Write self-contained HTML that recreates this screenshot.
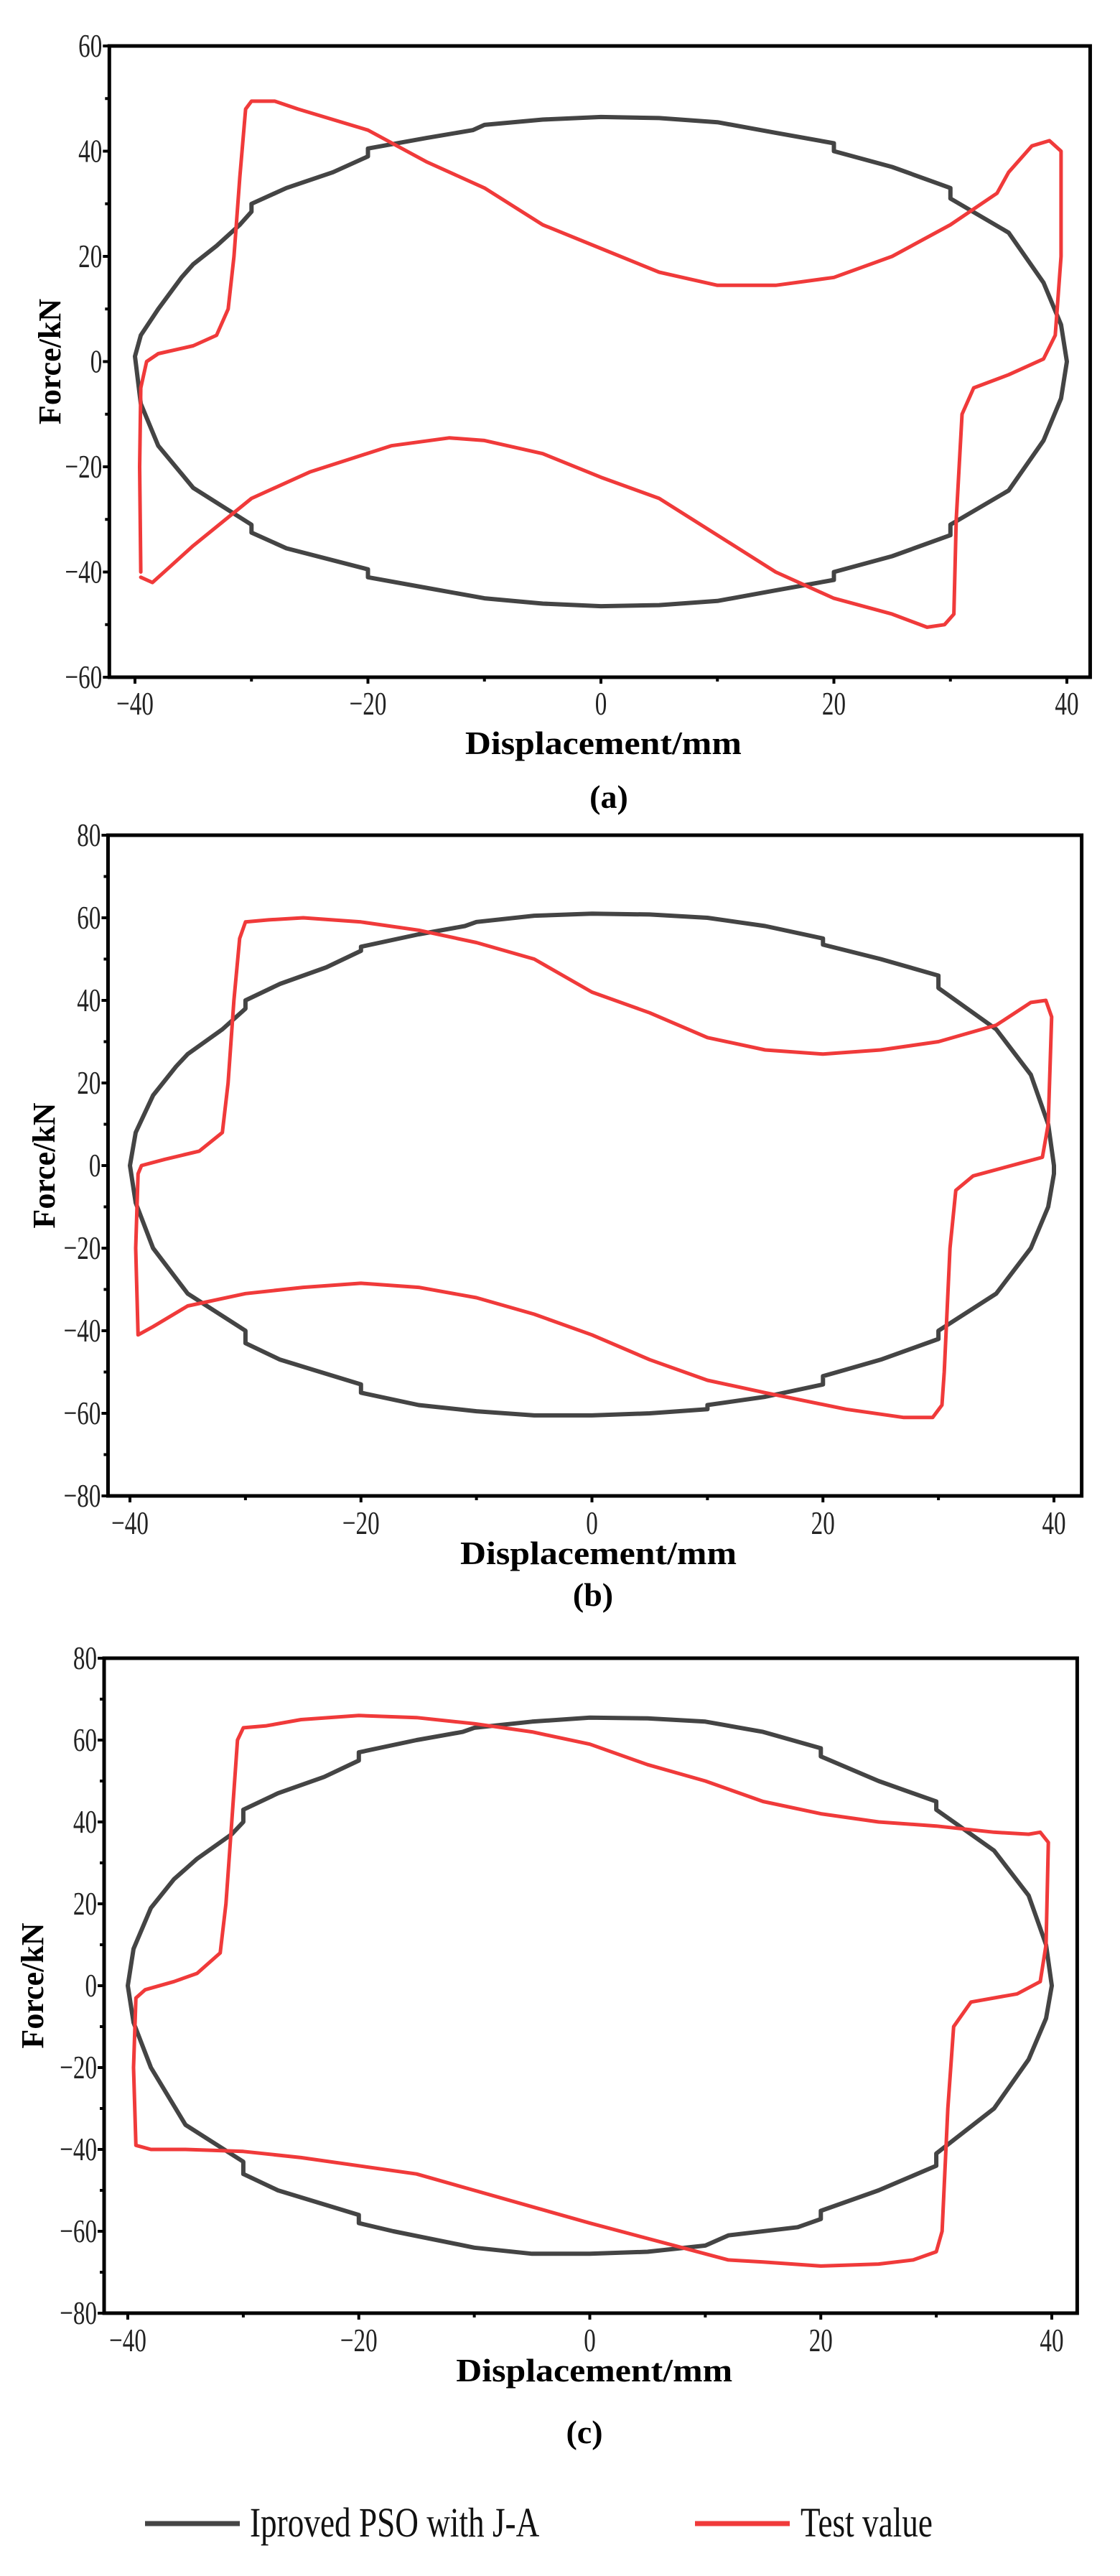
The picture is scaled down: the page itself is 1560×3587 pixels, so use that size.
<!DOCTYPE html>
<html><head><meta charset="utf-8"><style>
html,body{margin:0;padding:0;background:#fff;}
svg{display:block;}
</style></head><body>
<svg id="fig" width="1560" height="3587" viewBox="0 0 1560 3587" xmlns="http://www.w3.org/2000/svg"></svg>
<script>
// ---- Panel (a) data ----
const aModelX=[-40,-39.5,-38,-36,-35,-33,-31,-30,-30,-27,-23,-20,-20,-15,-11,-10,-5,0,5,10,15,20,20,25,30,30,35,38,39.5,40,39.5,38,35,30,30,25,20,20,15,10,5,0,-5,-10,-15,-20,-20,-27,-30,-30,-35,-38,-39.5,-40];
const aModelF=[1,5,10,16,18.5,22,26,28.5,30,33,36,39,40.5,42.5,44,45,46,46.5,46.3,45.5,43.5,41.5,40,37,33,31,24.5,15,7,0,-7,-15,-24.5,-31,-33,-37,-40,-41.5,-43.5,-45.5,-46.3,-46.5,-46,-45,-43,-41,-39.5,-35.5,-32.5,-31,-24,-16,-8,1];
const aTestX=[-39.5,-39.6,-39.5,-39,-38,-35,-33,-32,-31.5,-31,-30.5,-30,-28,-26,-20,-15,-10,-5,0,5,10,15,20,25,30,34,35,37,38.5,39.5,39.5,39,38,35,32,31,30.5,30.3,29.5,28,25,20,15,10,5,0,-5,-10,-13,-18,-25,-30,-35,-37,-38.5,-39.5];
const aTestF=[-40,-20,-5,0,1.5,3,5,10,20,35,48,49.5,49.5,48,44,38,33,26,21.5,17,14.5,14.5,16,20,26,32,36,41,42,40,20,5,0.5,-2.5,-5,-10,-30,-48,-50,-50.5,-48,-45,-40,-33,-26,-22,-17.5,-15,-14.5,-16,-21,-26,-35,-39,-42,-41];
// ---- Panel (b) data ----
const bModelX=[-40,-39.5,-38,-36,-35,-32,-30,-30,-27,-23,-20,-20,-15,-11,-10,-5,0,5,10,15,20,20,25,30,30,35,38,39.5,40,40,39.5,38,35,30,30,25,20,20,15,10,10,5,0,-5,-10,-15,-20,-20,-27,-30,-30,-35,-38,-39.5,-40];
const bModelF=[0,8,17,24,27,33,38,40,44,48,52,53,56,58,59,60.5,61,60.8,60,58,55,53.5,50,46,43,33,22,10,0,-2,-10,-20,-31,-40,-42,-47,-51,-53,-56,-58,-59,-60,-60.5,-60.5,-59.5,-58,-55,-53,-47,-43,-40,-31,-20,-9,0];
const bTestX=[-39.3,-39.5,-39.3,-39,-37,-34,-32,-31.5,-31,-30.5,-30,-28,-25,-20,-15,-10,-5,0,5,10,15,20,25,30,35,38,39.3,39.8,39.5,39,37,33,31.5,31,30.5,30.3,29.5,27,22,15,10,5,0,-5,-10,-15,-20,-25,-30,-35,-38,-39.3];
const bTestF=[-41,-20,-2,0,1.5,3.5,8,20,40,55,59,59.5,60,59,57,54,50,42,37,31,28,27,28,30,34,39.5,40,36,10,2,0.5,-2.5,-6,-20,-50,-58,-61,-61,-59,-55,-52,-47,-41,-36,-32,-29.5,-28.5,-29.5,-31,-34,-39,-41];
// ---- Panel (c) data ----
const cModelX=[-40,-39.5,-38,-36,-34,-31,-30,-30,-27,-23,-20,-20,-15,-11,-10,-5,0,5,10,15,20,20,25,30,30,35,38,39.5,40,39.5,38,35,30,30,25,20,20,18,12,10,5,0,-5,-10,-17,-20,-20,-27,-30,-30,-35,-38,-39.5,-40];
const cModelF=[0,9,19,26,31,37,40,43,47,51,55,57,60,62,63,64.5,65.5,65.3,64.5,62,58,56,50,45,43,33,22,10,0,-8,-18,-30,-41,-44,-50,-55,-57,-59,-61,-63.5,-65,-65.5,-65.5,-64,-60,-58,-56,-50,-46,-43,-34,-20,-9,0];
const cTestX=[-39.3,-39.5,-39.3,-38.5,-36,-34,-32,-31.5,-31,-30.5,-30,-28,-25,-20,-15,-10,-5,0,5,10,15,20,25,30,35,38,39,39.7,39.5,39,37,33,31.5,31,30.5,30,28,25,20,15,12,8,0,-5,-10,-15,-20,-25,-30,-35,-38,-39.3];
const cTestF=[-39,-20,-3,-1,1,3,8,20,40,60,63,63.5,65,66,65.5,64,62,59,54,50,45,42,40,39,37.5,37,37.5,35,10,1,-2,-4,-10,-30,-60,-65,-67,-68,-68.5,-67.5,-67,-64,-58,-54,-50,-46,-44,-42,-40.5,-40,-40,-39];
// ---- Axis ticks ----
const xTicks=[-40,-20,0,20,40];
const yTicksA=[-60,-40,-20,0,20,40,60];
const yTicksBC=[-80,-60,-40,-20,0,20,40,60,80];

const NS='http://www.w3.org/2000/svg';
const svg=document.getElementById('fig');
function mk(tag,attrs,parent){const e=document.createElementNS(NS,tag);for(const k in attrs)e.setAttribute(k,attrs[k]);(parent||svg).appendChild(e);return e;}

function panel(p){
  const g=mk('g',{});
  
  
  const sx=v=>p.x0+(v-(-40))*(p.x1-p.x0)/80;
  const sy=v=>p.y0-(v-p.yMin)*(p.y0-p.y1)/(p.yMax-p.yMin);
  const L=sx(p.fxMin),R=sx(p.fxMax),T=sy(p.yMax),B=sy(p.yMin);
  for(let v=-40;v<=40;v+=10){const t=mk('line',{x1:sx(v),x2:sx(v),y1:B,y2:B+(v%20===0?9:6),stroke:'#000','stroke-width':4},g);
    }
  for(let v=p.yMin;v<=p.yMax;v+=10){const t=mk('line',{x1:L,x2:L-(v%20===0?9:6),y1:sy(v),y2:sy(v),stroke:'#000','stroke-width':4},g);
    }
  xTicks.forEach(v=>{const t=mk('text',{x:sx(v)/0.72,y:p.xlabY,'text-anchor':'middle','font-family':'Liberation Serif, serif','font-size':46,transform:'scale(0.72,1)',fill:'#222'},g);
    t.textContent=(v<0?'\u2212':'')+Math.abs(v);});
  p.yTicks.forEach(v=>{const t=mk('text',{x:(L-10)/0.72,y:sy(v)+15,'text-anchor':'end','font-family':'Liberation Serif, serif','font-size':46,transform:'scale(0.72,1)',fill:'#222'},g);
    t.textContent=(v<0?'\u2212':'')+Math.abs(v);});
  function series(xs,fs,color,w,name){
    let d='';xs.forEach((x,i)=>{d+=(i?'L':'M')+sx(x).toFixed(1)+','+sy(fs[i]).toFixed(1);});
    const e=mk('path',{d:d,fill:'none',stroke:color,'stroke-width':w,'stroke-linejoin':'round','stroke-linecap':'round'},g);
    
  }
  series(p.mx,p.mf,'#444',6,'model-curve-'+p.id);
  series(p.tx,p.tf,'#f03a3a',5,'test-curve-'+p.id);
  const fr=mk('rect',{x:L,y:T,width:R-L,height:B-T,fill:'none',stroke:'#000','stroke-width':5},g);
  
  const xt=mk('text',{x:(L+R)/2+5,y:p.xtitleY,'text-anchor':'middle','font-family':'Liberation Serif, serif','font-weight':'bold','font-size':46,textLength:385,lengthAdjust:'spacingAndGlyphs'},g);
  xt.textContent='Displacement/mm';
  const cy=(T+B)/2;
  const yt=mk('text',{x:0,y:0,'text-anchor':'middle','font-family':'Liberation Serif, serif','font-weight':'bold','font-size':44,transform:'translate('+p.ytitleX+','+cy+') rotate(-90)'},g);
  yt.textContent='Force/kN';
  const cap=mk('text',{x:p.capX,y:p.capY,'text-anchor':'middle','font-family':'Liberation Serif, serif','font-weight':'bold','font-size':46},g);
  cap.textContent='('+p.id+')';
}
panel({id:'a',x0:188,x1:1486,fxMin:-42.2,fxMax:42,y0:943,y1:64,yMin:-60,yMax:60,yTicks:yTicksA,
  mx:aModelX,mf:aModelF,tx:aTestX,tf:aTestF,xlabY:995,xtitleY:1050,ytitleX:84,capX:848,capY:1125});
panel({id:'b',x0:181,x1:1468,fxMin:-41.9,fxMax:42.4,y0:2083,y1:1163,yMin:-80,yMax:80,yTicks:yTicksBC,
  mx:bModelX,mf:bModelF,tx:bTestX,tf:bTestF,xlabY:2136,xtitleY:2178,ytitleX:76,capX:826,capY:2236});
panel({id:'c',x0:178,x1:1465,fxMin:-42.05,fxMax:42.2,y0:3221,y1:2309,yMin:-80,yMax:80,yTicks:yTicksBC,
  mx:cModelX,mf:cModelF,tx:cTestX,tf:cTestF,xlabY:3274,xtitleY:3316,ytitleX:60,capX:814,capY:3402});
// legend
const lg=mk('g',{});


const l1=mk('line',{x1:202,x2:334,y1:3514,y2:3514,stroke:'#444','stroke-width':7},lg);


const t1=mk('text',{x:348/0.78,y:3532,'font-family':'Liberation Serif, serif','font-size':58,transform:'scale(0.78,1)',fill:'#111'},lg);
t1.textContent='Iproved PSO with J-A';


const l2=mk('line',{x1:968,x2:1100,y1:3514,y2:3514,stroke:'#f03a3a','stroke-width':7},lg);


const t2=mk('text',{x:1115/0.78,y:3532,'font-family':'Liberation Serif, serif','font-size':58,transform:'scale(0.78,1)',fill:'#111'},lg);
t2.textContent='Test value';


</script>
</body></html>
